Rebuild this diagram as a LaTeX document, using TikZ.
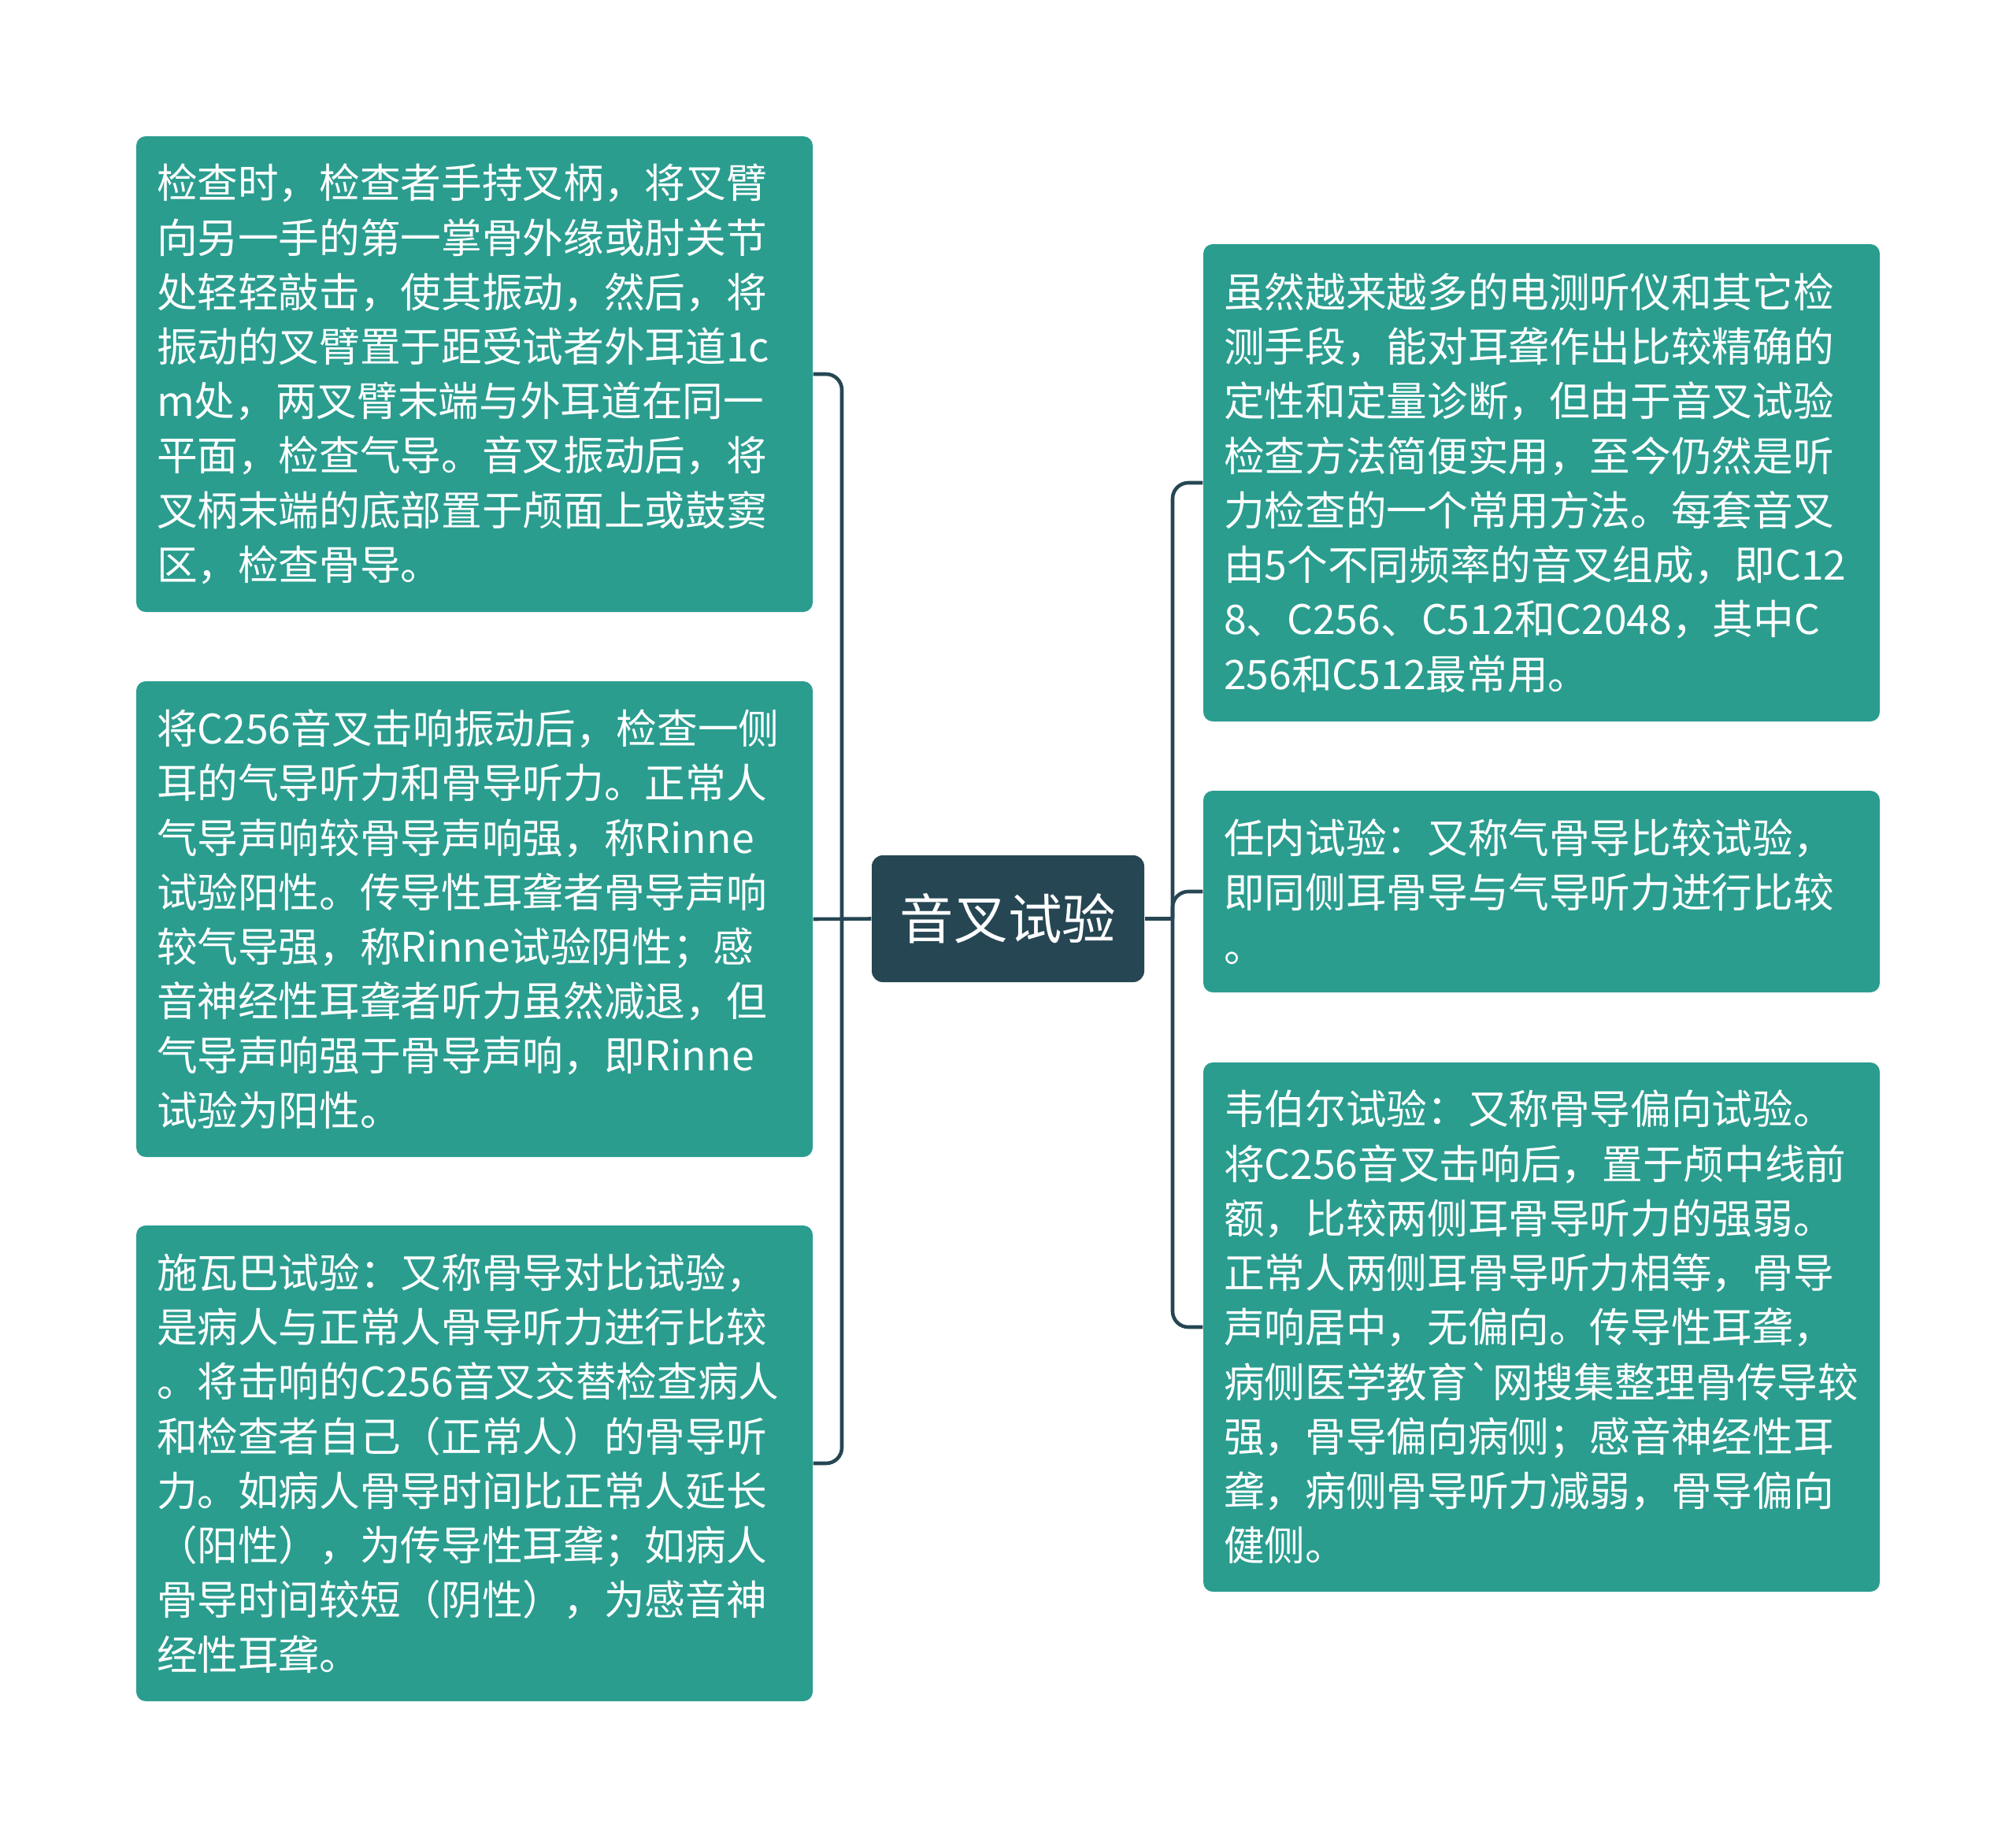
\documentclass[tikz,border=0pt]{standalone}
\usepackage{fontspec}
\newfontfamily\cjk{Noto Sans CJK SC}[Ligatures=TeXOff]
\definecolor{T}{RGB}{42, 157, 143}
\definecolor{D}{RGB}{38, 70, 83}
\tikzset{
  leaf/.style={rectangle, rounded corners=0.12cm, fill=T, text=white,
    text width=8.07cm, inner xsep=0.26cm, inner ysep=0pt, align=left,
    font=\cjk\fontsize{14.7pt}{19.7pt}\selectfont},
  root/.style={rectangle, rounded corners=0.14cm, fill=D, text=white,
    minimum width=3.46cm, minimum height=1.61cm, inner sep=0pt,
    font=\cjk\fontsize{19.5pt}{24pt}\selectfont},
  link/.style={D, line width=1.3pt, rounded corners=0.2cm}
}

\begin{document}
\begin{tikzpicture}
   \useasboundingbox[fill=white] (0,0) rectangle (25.6,-23.35);
   \node[root] (c) at (12.8,-11.665) {音叉试验};
   \node[leaf, minimum height=6.04cm] (L1) at (6.025,-4.75) {检查时，检查者手持叉柄，将叉臂\\向另一手的第一掌骨外缘或肘关节\\处轻轻敲击，使其振动，然后，将\\振动的叉臂置于距受试者外耳道1c\\m处，两叉臂末端与外耳道在同一\\平面，检查气导。音叉振动后，将\\叉柄末端的底部置于颅面上或鼓窦\\区，检查骨导。};
   \node[leaf, minimum height=6.04cm] (L2) at (6.025,-11.67) {将C256音叉击响振动后，检查一侧\\耳的气导听力和骨导听力。正常人\\气导声响较骨导声响强，称Rinne\\试验阳性。传导性耳聋者骨导声响\\较气导强，称Rinne试验阴性；感\\音神经性耳聋者听力虽然减退，但\\气导声响强于骨导声响，即Rinne\\试验为阳性。};
   \node[leaf, minimum height=6.04cm] (L3) at (6.025,-18.58) {施瓦巴试验：又称骨导对比试验，\\是病人与正常人骨导听力进行比较\\。将击响的C256音叉交替检查病人\\和检查者自己（正常人）的骨导听\\力。如病人骨导时间比正常人延长\\（阳性），为传导性耳聋；如病人\\骨导时间较短（阴性），为感音神\\经性耳聋。};
   \node[leaf, minimum height=6.06cm] (R1) at (19.575,-6.13) {虽然越来越多的电测听仪和其它检\\测手段，能对耳聋作出比较精确的\\定性和定量诊断，但由于音叉试验\\检查方法简便实用，至今仍然是听\\力检查的一个常用方法。每套音叉\\由5个不同频率的音叉组成，即C12\\8、C256、C512和C2048，其中C\\256和C512最常用。};
   \node[leaf, minimum height=2.56cm] (R2) at (19.575,-11.32) {任内试验：又称气骨导比较试验，\\即同侧耳骨导与气导听力进行比较\\。};
   \node[leaf, minimum height=6.72cm] (R3) at (19.575,-16.85) {韦伯尔试验：又称骨导偏向试验。\\将C256音叉击响后，置于颅中线前\\额，比较两侧耳骨导听力的强弱。\\正常人两侧耳骨导听力相等，骨导\\声响居中，无偏向。传导性耳聋，\\病侧医学教育`网搜集整理骨传导较\\强，骨导偏向病侧；感音神经性耳\\聋，病侧骨导听力减弱，骨导偏向\\健侧。};
   \coordinate (jl) at (10.69,-11.665);
   \coordinate (jr) at (14.89,-11.665);
   \draw[link] (c.west) -- (L2.east);
   \draw[link] (L1.east) -| (jl);
   \draw[link] (L3.east) -| (jl);
   \draw[link] (c.east) -- (jr);
   \draw[link] (R1.west) -| (jr);
   \draw[link] (R2.west) -| (jr);
   \draw[link] (R3.west) -| (jr);
\end{tikzpicture}
\end{document}
